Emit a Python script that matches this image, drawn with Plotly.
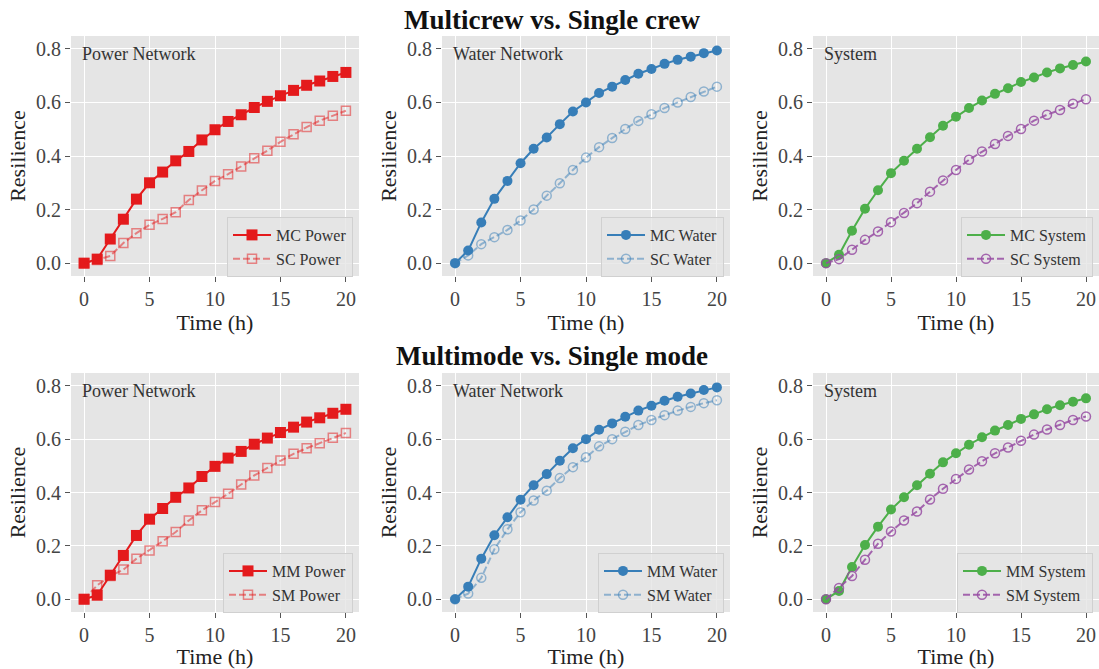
import plotly.graph_objects as go
from plotly.subplots import make_subplots

# ---------------- data ----------------
hours = list(range(21))

mc_power = [0.0, 0.015, 0.09, 0.164, 0.239, 0.300, 0.340, 0.382, 0.417, 0.460, 0.498,
            0.529, 0.554, 0.581, 0.604, 0.625, 0.645, 0.664, 0.680, 0.697, 0.712]
sc_power = [0.0, 0.012, 0.027, 0.075, 0.112, 0.143, 0.165, 0.190, 0.236, 0.271, 0.307,
            0.332, 0.361, 0.392, 0.420, 0.453, 0.481, 0.508, 0.532, 0.550, 0.569]
mc_water = [0.0, 0.047, 0.152, 0.240, 0.307, 0.373, 0.427, 0.469, 0.519, 0.566, 0.600,
            0.635, 0.659, 0.684, 0.707, 0.725, 0.744, 0.759, 0.771, 0.784, 0.794]
sc_water = [0.0, 0.029, 0.071, 0.097, 0.124, 0.159, 0.200, 0.252, 0.298, 0.348, 0.394,
            0.433, 0.467, 0.501, 0.531, 0.556, 0.579, 0.600, 0.620, 0.641, 0.659]
mc_system = [0.0, 0.031, 0.121, 0.203, 0.272, 0.336, 0.382, 0.427, 0.470, 0.513, 0.547,
             0.579, 0.607, 0.632, 0.653, 0.676, 0.693, 0.712, 0.727, 0.740, 0.753]
sc_system = [0.0, 0.015, 0.050, 0.087, 0.118, 0.153, 0.187, 0.224, 0.267, 0.309, 0.348,
             0.386, 0.417, 0.445, 0.475, 0.501, 0.532, 0.554, 0.572, 0.595, 0.612]

mm_power = [0.0, 0.015, 0.09, 0.164, 0.239, 0.300, 0.340, 0.382, 0.417, 0.460, 0.498,
            0.529, 0.554, 0.581, 0.604, 0.625, 0.645, 0.664, 0.680, 0.697, 0.712]
sm_power = [0.0, 0.052, 0.087, 0.111, 0.152, 0.183, 0.217, 0.252, 0.295, 0.333, 0.364,
            0.395, 0.430, 0.464, 0.492, 0.520, 0.545, 0.566, 0.585, 0.605, 0.623]
mm_water = [0.0, 0.047, 0.152, 0.240, 0.307, 0.373, 0.427, 0.469, 0.519, 0.566, 0.600,
            0.635, 0.659, 0.684, 0.707, 0.725, 0.744, 0.759, 0.771, 0.784, 0.794]
sm_water = [0.0, 0.021, 0.080, 0.187, 0.262, 0.326, 0.370, 0.407, 0.454, 0.495, 0.532,
            0.573, 0.600, 0.628, 0.653, 0.672, 0.690, 0.707, 0.721, 0.735, 0.746]
mm_system = [0.0, 0.031, 0.121, 0.203, 0.272, 0.336, 0.382, 0.427, 0.470, 0.513, 0.547,
             0.579, 0.607, 0.632, 0.653, 0.676, 0.693, 0.712, 0.727, 0.740, 0.753]
sm_system = [0.0, 0.042, 0.087, 0.148, 0.208, 0.254, 0.295, 0.329, 0.374, 0.414, 0.451,
             0.486, 0.517, 0.547, 0.569, 0.594, 0.617, 0.636, 0.653, 0.672, 0.685]

panel_titles = ["Power Network", "Water Network", "System"]
row_titles = ["Multicrew vs. Single crew", "Multimode vs. Single mode"]
x_ticks = [0, 5, 10, 15, 20]
y_ticks = [0.0, 0.2, 0.4, 0.6, 0.8]

# ---------------- styling ----------------
W, H = 1099, 669
FONT = "Liberation Serif"
RED, BLUE, GREEN, PURPLE = "#E41A1C", "#377EB8", "#4DAF4A", "#984EA3"
RED_L, BLUE_L = "rgba(228,26,28,0.5)", "rgba(55,126,184,0.5)"
PURPLE_L = "rgba(152,78,163,0.85)"

panels = [
    (1, 1, [("MC Power", mc_power, RED, "square", False), ("SC Power", sc_power, RED_L, "square-open", True)]),
    (1, 2, [("MC Water", mc_water, BLUE, "circle", False), ("SC Water", sc_water, BLUE_L, "circle-open", True)]),
    (1, 3, [("MC System", mc_system, GREEN, "circle", False), ("SC System", sc_system, PURPLE_L, "circle-open", True)]),
    (2, 1, [("MM Power", mm_power, RED, "square", False), ("SM Power", sm_power, RED_L, "square-open", True)]),
    (2, 2, [("MM Water", mm_water, BLUE, "circle", False), ("SM Water", sm_water, BLUE_L, "circle-open", True)]),
    (2, 3, [("MM System", mm_system, GREEN, "circle", False), ("SM System", sm_system, PURPLE_L, "circle-open", True)]),
]

col_px = [(71, 359), (442, 730), (813, 1099)]
row_px = [(36, 276), (373, 612)]

fig = make_subplots(rows=2, cols=3)

layout_updates = {}
for i, (r, c, series) in enumerate(panels):
    idx = i + 1
    legname = "legend" if idx == 1 else f"legend{idx}"
    for name, vals, color, symbol, dashed in series:
        is_sq = symbol.startswith("square")
        is_open = symbol.endswith("open")
        size = (9 if is_open else 11) if is_sq else (9 if is_open else 10)
        fig.add_trace(
            go.Scatter(
                x=hours, y=vals, name=name, mode="lines+markers",
                line=dict(color=color, width=2, dash="7px,3px" if dashed else "solid"),
                marker=dict(symbol=symbol, size=size, color=color,
                            line=dict(color=color, width=1.5 if is_open else 0)),
                legend=legname,
            ),
            row=r, col=c,
        )
    x0, x1 = col_px[c - 1]
    y0, y1 = row_px[r - 1]
    sfx = "" if idx == 1 else str(idx)
    layout_updates[f"xaxis{sfx}"] = dict(
        domain=[x0 / W, x1 / W], range=[-1, 21], tickvals=x_ticks,
        showgrid=True, gridcolor="white", gridwidth=1, zeroline=False,
        ticks="outside", ticklen=5, tickcolor="#555555", tickwidth=1,
        tickfont=dict(family=FONT, size=20, color="#444444"),
        title=dict(text="Time (h)", font=dict(family=FONT, size=22, color="#222222"), standoff=0),
        showline=False,
    )
    layout_updates[f"yaxis{sfx}"] = dict(
        domain=[1 - y1 / H, 1 - y0 / H], range=[-0.048, 0.848], tickvals=y_ticks,
        tickformat=".1f",
        showgrid=True, gridcolor="white", gridwidth=1, zeroline=False,
        ticks="outside", ticklen=5, tickcolor="#555555", tickwidth=1,
        tickfont=dict(family=FONT, size=20, color="#444444"),
        title=dict(text="Resilience", font=dict(family=FONT, size=22, color="#222222"), standoff=4),
        showline=False,
    )
    layout_updates[legname] = dict(
        x=(x1 - 6) / W, y=1 - (y1 + 1) / H, xanchor="right", yanchor="bottom",
        bgcolor="rgba(229,229,229,0.8)", bordercolor="#d0d0d0", borderwidth=1,
        font=dict(family=FONT, size=16, color="#333333"),
        itemwidth=38, tracegroupgap=0,
    )
    fig.add_annotation(
        text=panel_titles[c - 1], xref=f"x{sfx} domain", yref=f"y{sfx} domain",
        x=0.03, y=0.925, xanchor="left", yanchor="middle", showarrow=False,
        font=dict(family=FONT, size=18, color="#333333"),
    )

for k, t in enumerate(row_titles):
    fig.add_annotation(
        text=f"<b>{t}</b>", xref="paper", yref="paper",
        x=0.502, y=[1 - 20 / H, 1 - 356 / H][k], xanchor="center", yanchor="middle",
        showarrow=False, font=dict(family=FONT, size=27, color="#111111"),
    )

fig.update_layout(
    width=W, height=H, margin=dict(l=0, r=0, t=0, b=0),
    paper_bgcolor="white", plot_bgcolor="#E5E5E5",
    showlegend=True, font=dict(family=FONT),
    **layout_updates,
)

fig.write_html("out.html", config={"displayModeBar": False},
               post_script="document.body.style.margin='0px';")
